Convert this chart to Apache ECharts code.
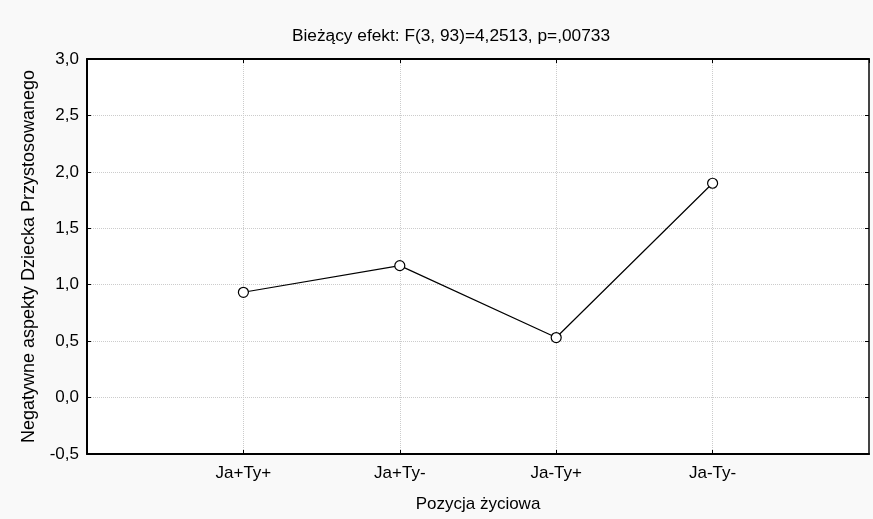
<!DOCTYPE html>
<html><head><meta charset="utf-8">
<script src="https://cdn.jsdelivr.net/npm/echarts@6/dist/echarts.min.js"></script>
<style>html,body{margin:0;padding:0;background:#f9f9f9}#c{width:873px;height:519px}</style>
</head><body><div id="c"></div>
<script>
const categories = ['Ja+Ty+', 'Ja+Ty-', 'Ja-Ty+', 'Ja-Ty-'];
const values = [0.933, 1.169, 0.532, 1.899];
const titleText = 'Bieżący efekt: F(3, 93)=4,2513, p=,00733';
const xName = 'Pozycja życiowa';
const yName = 'Negatywne aspekty Dziecka Przystosowanego';

const font = 'Liberation Sans, Arial, sans-serif';
const fs = 17;
const chart = echarts.init(document.getElementById('c'), null, {renderer: 'canvas'});
const fmtY = v => v.toFixed(1).replace('.', ',');
const fmtX = v => (v >= 1 && v <= categories.length) ? categories[v - 1] : '';
chart.setOption({
  backgroundColor: '#f9f9f9',
  animation: false,
  title: {text: titleText, left: 446, top: 23, textAlign: 'center',
    textStyle: {fontFamily: font, fontSize: 17.3, fontWeight: 'normal', color: '#000'}},
  grid: {left: 87, right: 4, top: 59, bottom: 65, show: true, backgroundColor: '#fff', borderWidth: 0, containLabel: false},
  xAxis: [{
    type: 'value', min: 0, max: categories.length + 1, interval: 1,
    name: xName, nameLocation: 'middle', nameGap: 42,
    nameTextStyle: {fontFamily: font, fontSize: fs, color: '#000'},
    axisLine: {show: true, onZero: false, lineStyle: {color: '#000', width: 2}},
    axisTick: {show: true, inside: true, length: 4, lineStyle: {color: '#000'}},
    axisLabel: {formatter: fmtX, fontFamily: font, fontSize: fs, color: '#000', margin: 11, showMinLabel: false, showMaxLabel: false},
    splitLine: {show: true, lineStyle: {color: '#cccccc', type: 'dotted', width: 1}}
  }, {
    type: 'value', position: 'top', min: 0, max: categories.length + 1, interval: 1,
    axisLine: {show: true, onZero: false, lineStyle: {color: '#000', width: 2}},
    axisTick: {show: true, inside: true, length: 4, lineStyle: {color: '#000'}},
    axisLabel: {show: false}, splitLine: {show: false}
  }],
  yAxis: [{
    type: 'value', min: -0.5, max: 3.0, interval: 0.5,
    name: yName, nameLocation: 'middle', nameGap: 49, nameRotate: 90,
    nameTextStyle: {fontFamily: font, fontSize: 18, color: '#000'},
    axisLine: {show: true, onZero: false, lineStyle: {color: '#000', width: 2}},
    axisTick: {show: true, inside: true, length: 4, lineStyle: {color: '#000'}},
    axisLabel: {formatter: fmtY, fontFamily: font, fontSize: fs, color: '#000', margin: 8},
    splitLine: {show: true, lineStyle: {color: '#cccccc', type: 'dotted', width: 1}}
  }, {
    type: 'value', position: 'right', min: -0.5, max: 3.0, interval: 0.5,
    axisLine: {show: true, onZero: false, lineStyle: {color: '#444', width: 2}},
    axisTick: {show: true, inside: true, length: 4, lineStyle: {color: '#000'}},
    axisLabel: {show: false}, splitLine: {show: false}
  }],
  series: [{
    type: 'line',
    data: values.map((v, i) => [i + 1, v]),
    symbol: 'circle', symbolSize: 10,
    itemStyle: {color: '#fff', borderColor: '#000', borderWidth: 1.2},
    lineStyle: {color: '#000', width: 1.2},
    z: 5
  }]
});
</script></body></html>
